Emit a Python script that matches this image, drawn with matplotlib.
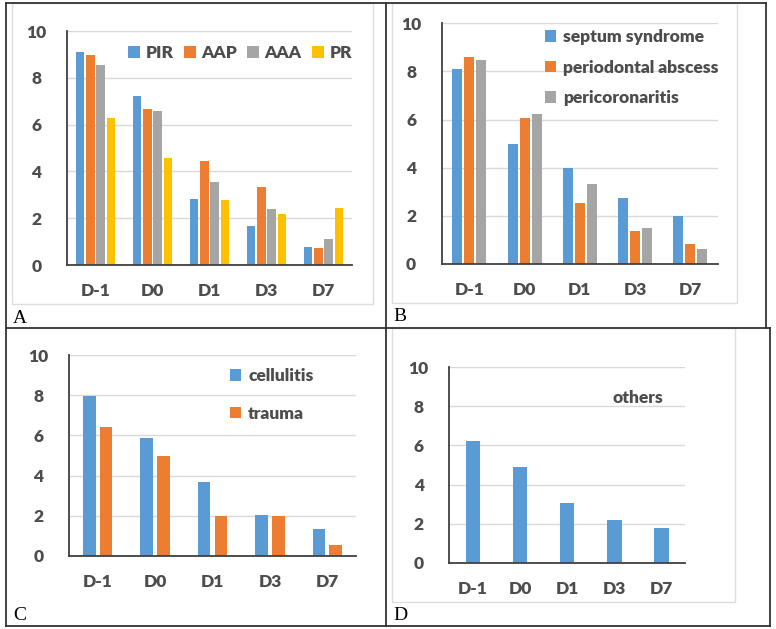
import numpy as np
import matplotlib
matplotlib.use("Agg")
import matplotlib.pyplot as plt
from matplotlib.lines import Line2D
from matplotlib.patches import Rectangle

W, H = 776, 629

days = ["D-1", "D0", "D1", "D3", "D7"]

# panel A
a_names = ["PIR", "AAP", "AAA", "PR"]
a_pir = [9.09, 7.22, 2.83, 1.68, 0.75]
a_aap = [8.96, 6.67, 4.44, 3.35, 0.71]
a_aaa = [8.53, 6.57, 3.56, 2.38, 1.12]
a_pr = [6.27, 4.57, 2.76, 2.19, 2.44]

# panel B
b_names = ["septum syndrome", "periodontal abscess", "pericoronaritis"]
b_septum = [8.10, 5.00, 4.00, 2.74, 1.98]
b_abscess = [8.59, 6.07, 2.55, 1.37, 0.84]
b_pericor = [8.46, 6.25, 3.34, 1.48, 0.64]

# panel C
c_names = ["cellulitis", "trauma"]
c_cellulitis = [7.99, 5.86, 3.66, 2.03, 1.31]
c_trauma = [6.41, 4.99, 2.00, 2.00, 0.53]

# panel D
d_name = "others"
d_others = [6.25, 4.88, 3.07, 2.20, 1.76]

colors = ["#5B9BD5", "#ED7D31", "#A5A5A5", "#FFC000"]
txt = "#4D4D4D"
fsize = 12.5
wt = "heavy"

plt.rcParams["font.family"] = ["Lato", "DejaVu Sans"]
plt.rcParams["font.weight"] = wt

fig = plt.figure(figsize=(W / 100, H / 100), dpi=100)


def px_axes(x0, y0, x1, y1):
    return fig.add_axes([x0 / W, 1 - y1 / H, (x1 - x0) / W, (y1 - y0) / H])


def style(ax):
    ax.set_xlim(-0.5, 4.5)
    ax.set_ylim(0, 10)
    ax.set_yticks([0, 2, 4, 6, 8, 10])
    ax.set_xticks(range(5))
    ax.set_xticklabels(days)
    ax.grid(axis="y", color="#D9D9D9", linewidth=1)
    ax.set_axisbelow(True)
    for s in ["top", "right"]:
        ax.spines[s].set_visible(False)
    for s in ["left", "bottom"]:
        ax.spines[s].set_color("#404040")
        ax.spines[s].set_linewidth(1.3)
    ax.tick_params(axis="both", length=0, labelsize=fsize, labelcolor=txt)
    ax.tick_params(axis="x", pad=13)
    ax.tick_params(axis="y", pad=22)
    for lab in ax.get_xticklabels() + ax.get_yticklabels():
        lab.set_fontweight(wt)
    for lab in ax.get_yticklabels():
        lab.set_horizontalalignment("center")
    ax.set_facecolor("none")


def grouped(ax, series, step, width):
    x = np.arange(len(days))
    n = len(series)
    bars = []
    for i, vals in enumerate(series):
        off = (i - (n - 1) / 2) * step
        bars.append(ax.bar(x + off, vals, width, color=colors[i], linewidth=0))
    return bars


legend_font = {"weight": wt, "size": fsize}

# light chart frames
for (x0, y0, x1, y1) in [(12, 3, 373, 304), (392, 3, 737, 303), (392, 328, 735, 602)]:
    fig.add_artist(Rectangle((x0 / W, 1 - y1 / H), (x1 - x0) / W, (y1 - y0) / H,
                             transform=fig.transFigure, fill=False,
                             edgecolor="#DDDDDD", linewidth=1))

ax = px_axes(67, 31, 352, 265)
style(ax)
bars = grouped(ax, [a_pir, a_aap, a_aaa, a_pr], 0.18, 0.146)
leg = ax.legend(bars, a_names, loc="center right", bbox_to_anchor=(1.0, 0.906),
                ncol=4, frameon=False, prop=legend_font, handlelength=0.7,
                handleheight=0.7, handletextpad=0.3, columnspacing=0.6,
                borderaxespad=0, borderpad=0)
for t in leg.get_texts():
    t.set_color(txt)

ax = px_axes(441.7, 23.3, 718, 264)
style(ax)
bars = grouped(ax, [b_septum, b_abscess, b_pericor], 0.217, 0.18)
leg = ax.legend(bars, b_names, loc="upper left", bbox_to_anchor=(0.374, 0.977),
                frameon=False, prop=legend_font, handlelength=0.65,
                handleheight=0.65, handletextpad=0.4, labelspacing=0.85,
                borderaxespad=0, borderpad=0)
for t in leg.get_texts():
    t.set_color(txt)

ax = px_axes(69, 355.3, 356, 555.7)
style(ax)
bars = grouped(ax, [c_cellulitis, c_trauma], 0.29, 0.22)
leg = ax.legend(bars, c_names, loc="upper left", bbox_to_anchor=(0.561, 0.935),
                frameon=False, prop=legend_font, handlelength=0.65,
                handleheight=0.65, handletextpad=0.4, labelspacing=1.22,
                borderaxespad=0, borderpad=0)
for t in leg.get_texts():
    t.set_color(txt)

ax = px_axes(449.3, 367.3, 685, 562.7)
style(ax)
ax.bar(np.arange(len(days)), d_others, 0.31, color=colors[0], linewidth=0)
ax.text(0.693, 0.841, d_name, transform=ax.transAxes, ha="left", va="center",
        color=txt, fontweight=wt, fontsize=fsize)

# panel letters
for lab, x, y in [("A", 13, 323), ("B", 393, 321), ("C", 13, 620), ("D", 393, 620)]:
    fig.text(x / W, 1 - y / H, lab, family="Liberation Serif", fontweight="normal",
             fontsize=14, color="black", ha="left", va="baseline")

# outer border and separators
line_kw = dict(transform=fig.transFigure, color="#333333", linewidth=1.3)
segs = [((6, 3), (766, 3)), ((6, 3), (6, 626)), ((6, 626), (770, 626)),
        ((766, 3), (766, 328)), ((770, 328), (770, 626)),
        ((6, 328), (770, 328)), ((385.7, 3), (385.7, 626))]
for (xa, ya), (xb, yb) in segs:
    fig.add_artist(Line2D([xa / W, xb / W], [1 - ya / H, 1 - yb / H], **line_kw))

fig.savefig("out.png", dpi=100, facecolor="white")
